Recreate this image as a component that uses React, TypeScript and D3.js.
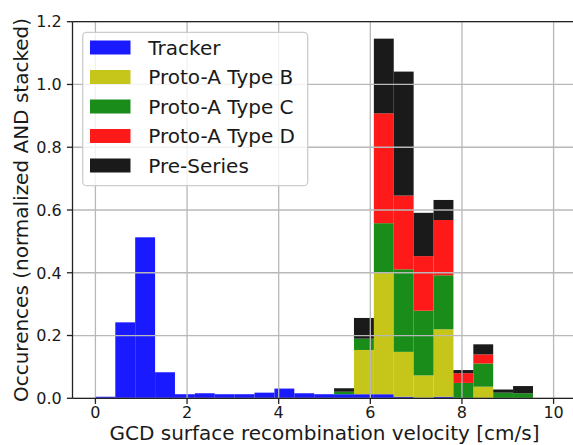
import React from "react";
import * as d3 from "d3";

// Histogram binning: 22 equal bins from 0 to 9.55 cm/s
const binLow = 0;
const binHigh = 9.55;
const binCount = 22;

// Normalized occurrences per bin, one array per sample group (stacked in this order)
const tracker = [0.005, 0.242, 0.513, 0.083, 0.013, 0.016, 0.013, 0.013, 0.018, 0.031, 0.016, 0.013, 0.013, 0.013, 0.013, 0.005, 0.002, 0.005, 0, 0, 0, 0];
const protoTypeB = [0, 0, 0, 0, 0, 0, 0, 0, 0, 0, 0, 0, 0, 0.141, 0.387, 0.143, 0.071, 0.215, 0, 0.037, 0, 0];
const protoTypeC = [0, 0, 0, 0, 0, 0, 0, 0, 0, 0, 0, 0, 0.008, 0.036, 0.158, 0.263, 0.206, 0.172, 0.049, 0.074, 0.018, 0.016];
const protoTypeD = [0, 0, 0, 0, 0, 0, 0, 0, 0, 0, 0, 0, 0, 0, 0.35, 0.235, 0.174, 0.176, 0.031, 0.029, 0, 0];
const preSeries = [0, 0, 0, 0, 0, 0, 0, 0, 0, 0, 0, 0, 0.011, 0.066, 0.238, 0.395, 0.138, 0.064, 0.01, 0.032, 0.01, 0.023];

const seriesNames = ["Tracker", "Proto-A Type B", "Proto-A Type C", "Proto-A Type D", "Pre-Series"];
const seriesValues = [tracker, protoTypeB, protoTypeC, protoTypeD, preSeries];
const seriesColors = ["#1a1aff", "#c5c51a", "#1a8c1a", "#ff1a1a", "#1a1a1a"];

const xTicks = [0, 2, 4, 6, 8, 10];
const yTicks = [0, 0.2, 0.4, 0.6, 0.8, 1.0, 1.2];

const xLabel = "GCD surface recombination velocity [cm/s]";
const yLabel = "Occurences (normalized AND stacked)";

const W = 573;
const H = 445;
const plot = { left: 72.5, right: 576.5, top: 21.7, bottom: 398.3 };
const font = "'DejaVu Sans', sans-serif";

export default function App() {
  const x = d3.scaleLinear().domain([-0.5, 10.5]).range([plot.left, plot.right]);
  const y = d3.scaleLinear().domain([0, 1.2]).range([plot.bottom, plot.top]);

  const edges = d3.range(binCount + 1).map((i) => binLow + ((binHigh - binLow) * i) / binCount);

  const rows = d3.range(binCount).map((i) => {
    const r: Record<string, number> = { bin: i };
    seriesNames.forEach((name, s) => (r[name] = seriesValues[s][i]));
    return r;
  });
  const stacked = d3.stack<Record<string, number>>().keys(seriesNames)(rows);

  const gridColor = "#b8b8b8";
  const legend = { x: 82.7, y: 32.3, w: 225, h: 153.4, row0: 47.5, rowStep: 29.5 };

  return (
    <svg
      width={W}
      height={H}
      style={{ position: "absolute", left: 0, top: 0, background: "#fff" }}
      fontFamily={font}
    >
      <defs>
        <clipPath id="plot-area">
          <rect x={plot.left} y={plot.top} width={plot.right - plot.left} height={plot.bottom - plot.top} />
        </clipPath>
      </defs>

      {/* stacked histogram bars */}
      <g clipPath="url(#plot-area)">
        {stacked.map((layer, s) => (
          <g key={layer.key} fill={seriesColors[s]}>
            {layer.map((d, i) =>
              d[1] - d[0] > 0 ? (
                <rect
                  key={i}
                  x={x(edges[i])}
                  width={x(edges[i + 1]) - x(edges[i])}
                  y={y(d[1])}
                  height={y(d[0]) - y(d[1])}
                />
              ) : null
            )}
          </g>
        ))}
      </g>

      {/* grid on top of bars */}
      <g stroke={gridColor} strokeWidth={1.3}>
        {xTicks.map((t) => (
          <line key={"gx" + t} x1={x(t)} x2={x(t)} y1={plot.top} y2={plot.bottom} />
        ))}
        {yTicks.map((t) => (
          <line key={"gy" + t} x1={plot.left} x2={plot.right} y1={y(t)} y2={y(t)} />
        ))}
      </g>

      {/* spines */}
      <g stroke="#222" strokeWidth={1.3} fill="none">
        <line x1={plot.left} x2={plot.left} y1={plot.top} y2={plot.bottom} />
        <line x1={plot.left} x2={plot.right} y1={plot.bottom} y2={plot.bottom} />
        <line x1={plot.left} x2={plot.right} y1={plot.top} y2={plot.top} />
        <line x1={plot.right} x2={plot.right} y1={plot.top} y2={plot.bottom} />
      </g>

      {/* x axis ticks */}
      <g fontSize={16} fill="#1a1a1a" textAnchor="middle">
        {xTicks.map((t) => (
          <g key={"xt" + t}>
            <line x1={x(t)} x2={x(t)} y1={plot.bottom} y2={plot.bottom + 5.6} stroke="#222" strokeWidth={1.3} />
            <text x={x(t)} y={417.5}>
              {t}
            </text>
          </g>
        ))}
      </g>

      {/* y axis ticks */}
      <g fontSize={16} fill="#1a1a1a" textAnchor="end">
        {yTicks.map((t) => (
          <g key={"yt" + t}>
            <line x1={plot.left - 5.6} x2={plot.left} y1={y(t)} y2={y(t)} stroke="#222" strokeWidth={1.3} />
            <text x={61.7} y={y(t)} dy="0.36em">
              {t.toFixed(1)}
            </text>
          </g>
        ))}
      </g>

      {/* axis labels */}
      <text x={(plot.left + plot.right) / 2} y={440.2} fontSize={20} textAnchor="middle" fill="#1a1a1a">
        {xLabel}
      </text>
      <text
        transform={`translate(27.6, ${(plot.top + plot.bottom) / 2}) rotate(-90)`}
        fontSize={20}
        textAnchor="middle"
        fill="#1a1a1a"
      >
        {yLabel}
      </text>

      {/* legend */}
      <g>
        <rect
          x={legend.x}
          y={legend.y}
          width={legend.w}
          height={legend.h}
          rx={4}
          fill="#fff"
          fillOpacity={0.8}
          stroke="#cccccc"
          strokeWidth={1.3}
        />
        {seriesNames.map((name, s) => {
          const cy = legend.row0 + s * legend.rowStep;
          return (
            <g key={name}>
              <rect x={90} y={cy - 7} width={40.5} height={14} fill={seriesColors[s]} />
              <text x={148.3} y={cy + 7.3} fontSize={20} fill="#1a1a1a">
                {name}
              </text>
            </g>
          );
        })}
      </g>
    </svg>
  );
}
